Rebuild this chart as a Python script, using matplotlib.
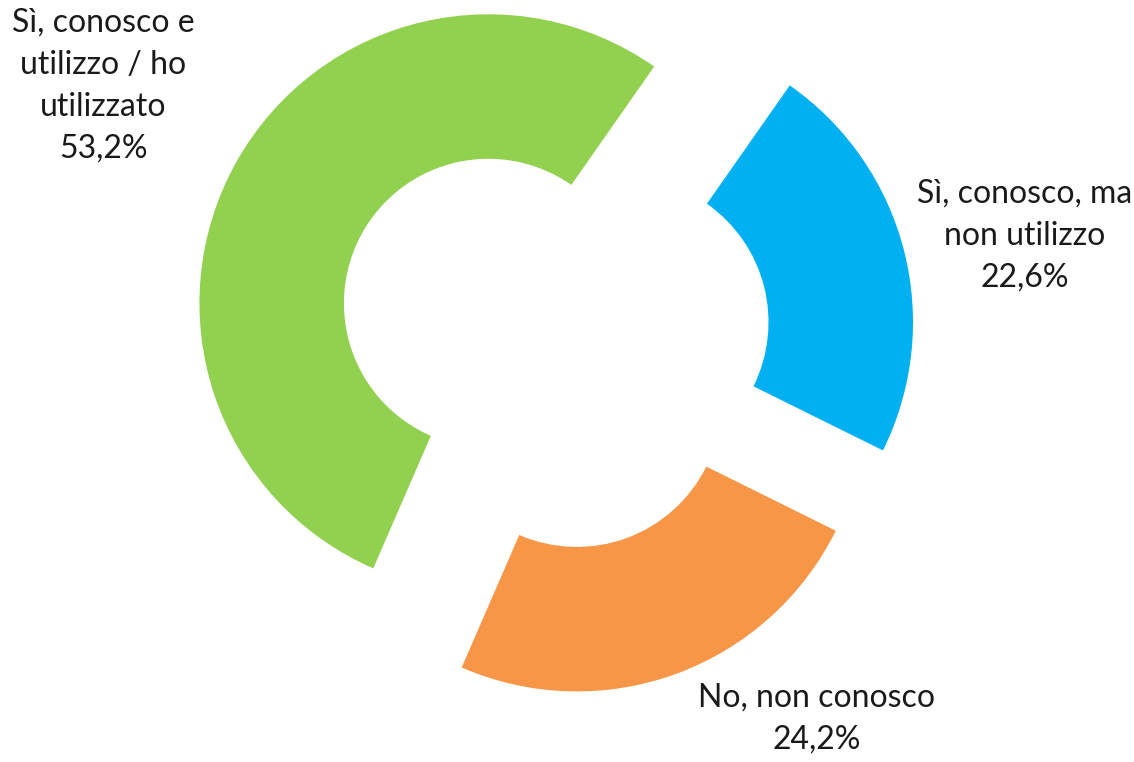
import matplotlib.pyplot as plt

# survey answers, order as drawn clockwise from the blue slice
categories = ["Sì, conosco, ma\nnon utilizzo", "No, non conosco", "Sì, conosco e\nutilizzo / ho\nutilizzato"]
values = [22.6, 24.2, 53.2]
colors = ["#00B0F0", "#F79646", "#92D050"]

# label centres in data units (pie radius = 1)
label_pos = [(1.63, 0.36), (0.91, -1.31), (-1.56, 0.88)]

plt.rcParams['font.family'] = ['Lato', 'DejaVu Sans']

fig = plt.figure(figsize=(11.34, 7.62), dpi=100)
ax = fig.add_axes([0, 0, 1, 1])

ax.pie(values, colors=colors, startangle=55, counterclock=False,
       explode=[0.25, 0.23, 0.26], radius=1,
       wedgeprops=dict(width=0.5, linewidth=0))

for cat, val, (x, y) in zip(categories, values, label_pos):
    txt = cat + "\n" + f"{val:.1f}".replace(".", ",") + "%"
    ax.text(x, y, txt, ha='center', va='center', fontsize=23,
            color='#1a1a1a', linespacing=1.5)

ax.set_xlim(-554 / 289, (1134 - 554) / 289)
ax.set_ylim(-(762 - 340) / 289, 340 / 289)
ax.set_aspect('equal')
ax.axis('off')

fig.savefig("out.png", dpi=100)
